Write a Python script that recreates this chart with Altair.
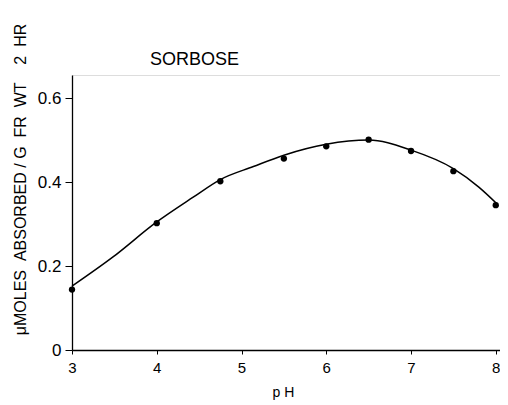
import altair as alt
import pandas as pd

# measured points
ph_points = [3.0, 4.0, 4.75, 5.5, 6.0, 6.5, 7.0, 7.5, 8.0]
val_points = [0.144, 0.302, 0.402, 0.456, 0.485, 0.501, 0.474, 0.426, 0.345]

# hand-drawn fitted curve
ph_curve = [3.0, 3.48, 4.0, 4.43, 4.75, 5.14, 5.5, 6.0, 6.5, 7.0, 7.5, 7.8, 8.02]
val_curve = [0.152, 0.221, 0.305, 0.364, 0.406, 0.437, 0.464, 0.490, 0.500, 0.476, 0.432, 0.388, 0.347]

x_ticks = [3, 4, 5, 6, 7, 8]
y_ticks = [0, 0.2, 0.4, 0.6]
panel_title = ["SORBOSE"]

pts = pd.DataFrame({"ph": ph_points, "val": val_points})
crv = pd.DataFrame({"ph": ph_curve, "val": val_curve})

FONT = "Liberation Sans"
NB = "\u00a0"

xs = alt.Scale(domain=[3, 8.05], nice=False, zero=False)
ys = alt.Scale(domain=[0, 0.655], nice=False)

x_axis = alt.Axis(
    values=x_ticks, format="d", title="p H", grid=False, tickSize=4, labelPadding=6,
    labelFontSize=15, labelFont=FONT, labelColor="black", labelFontWeight="normal",
    titleFontSize=14, titleFont=FONT, titleFontWeight="normal", titleColor="black",
    titleX=211, titleY=46, titleBaseline="alphabetic", titleAlign="center",
    domainColor="black", tickColor="black", domainWidth=1.3, labelFlush=False,
)
y_axis = alt.Axis(
    values=y_ticks, title=f"μMOLES{NB}{NB}ABSORBED{NB}/{NB}G{NB}{NB}FR{NB}{NB}WT{NB}{NB}{NB}{NB}2{NB}{NB}HR",
    grid=False, tickSize=7, labelPadding=4,
    labelExpr="datum.value == 0 ? '0' : format(datum.value, '.1f')",
    labelFontSize=17, labelFont=FONT, labelColor="black",
    titleFontSize=16, titleFont=FONT, titleFontWeight="normal", titleColor="black",
    titleX=-47, titleY=104, titleBaseline="alphabetic", titleAlign="center", titleAngle=270,
    domainColor="black", tickColor="black", domainWidth=1.3, labelFlush=False,
)

line = alt.Chart(crv).mark_line(color="black", strokeWidth=1.5, interpolate="monotone").encode(
    x=alt.X("ph:Q", scale=xs, axis=x_axis),
    y=alt.Y("val:Q", scale=ys, axis=y_axis),
)
dots = alt.Chart(pts).mark_circle(color="black", opacity=1, size=40).encode(
    x=alt.X("ph:Q", scale=xs),
    y=alt.Y("val:Q", scale=ys),
)
label = alt.Chart(pd.DataFrame({"t": panel_title})).mark_text(
    font=FONT, fontSize=18, color="black", align="left", baseline="alphabetic"
).encode(text="t:N", x=alt.value(78), y=alt.value(-10))

chart = (line + dots + label).properties(
    width=428, height=275,
    autosize=alt.AutoSizeParams(type="none"),
    padding={"left": 64, "top": 67, "right": 0, "bottom": 50},
).configure_view(stroke=None).configure(background="white")

chart.save("out.html", embed_options={"renderer": "svg", "actions": False})
